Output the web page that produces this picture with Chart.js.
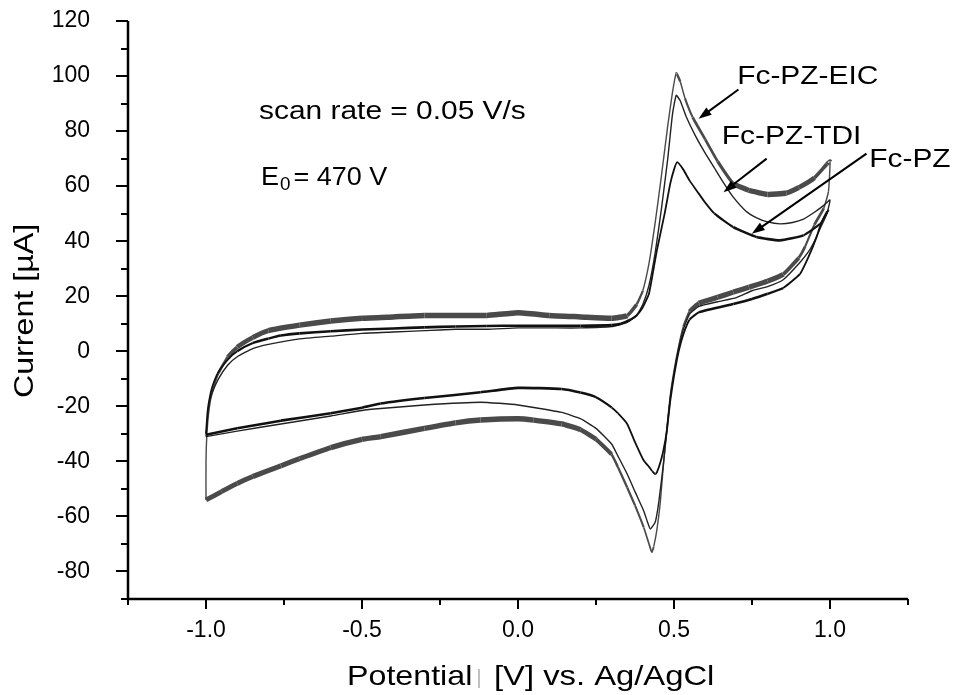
<!DOCTYPE html>
<html>
<head>
<meta charset="utf-8">
<script src="https://cdn.jsdelivr.net/npm/chart.js@4.4.1/dist/chart.umd.min.js"></script>
<style>
  html, body { margin: 0; padding: 0; background: #fff; }
  #wrap { width: 956px; height: 695px; position: relative; }
</style>
</head>
<body>
<div id="wrap"><canvas id="cvChart"></canvas></div>
<script>
// cyclic voltammograms, forward scan (-1.0 -> 1.0) then reverse scan (1.0 -> -1.0)
var eicPotential = [
  -1.00, -1.00, -0.997, -0.99, -0.98, -0.96, -0.93, -0.90, -0.85, -0.80, -0.70, -0.60, -0.50, -0.40,
  -0.30, -0.20, -0.10, 0.00, 0.10, 0.20, 0.30, 0.35, 0.38, 0.40, 0.42, 0.44, 0.46, 0.48, 0.495,
  0.507, 0.52, 0.535, 0.56, 0.60, 0.64, 0.69, 0.74, 0.80, 0.86, 0.90, 0.95, 0.99, 1.00,
  0.995, 0.98, 0.95, 0.92, 0.90, 0.85, 0.80, 0.74, 0.69, 0.64, 0.58, 0.55, 0.53, 0.515, 0.50,
  0.488, 0.477, 0.467, 0.456, 0.445, 0.435, 0.429, 0.42, 0.403, 0.375, 0.35, 0.32, 0.30, 0.25,
  0.20, 0.14, 0.05, 0.00, -0.12, -0.20, -0.30, -0.44, -0.50, -0.60, -0.70, -0.76, -0.85, -0.90,
  -0.95, -1.00
];
var eicCurrent = [
  -54, -40, -30, -21, -15, -8, -2, 1.5, 5, 7.5, 9.5, 11, 12, 12.5,
  13, 13, 13, 14, 13, 12.5, 12, 13, 17, 22, 32, 47, 64, 82, 94,
  101, 98, 92, 85, 77, 69, 61, 58.5, 57, 57.5, 59.5, 63, 68, 69,
  58, 52, 46, 38, 34, 28, 25.5, 23.3, 21.5, 19.6, 17.5, 14.5, 9, 2, -7,
  -16, -28, -40, -55, -65, -71, -73, -70, -64, -56, -49.5, -42, -37.5, -32,
  -28.5, -26.4, -25, -24.5, -25, -26, -28, -31, -32, -35, -39, -41.6, -45.5, -48,
  -51, -54
];

var tdiPotential = [
  -1.00, -0.995, -0.99, -0.98, -0.96, -0.93, -0.90, -0.85, -0.80, -0.70, -0.60, -0.50, -0.40,
  -0.30, -0.20, -0.10, 0.00, 0.10, 0.20, 0.30, 0.35, 0.38, 0.40, 0.42, 0.44, 0.46, 0.48, 0.495,
  0.507, 0.52, 0.54, 0.57, 0.60, 0.63, 0.66, 0.69, 0.73, 0.765, 0.80, 0.84, 0.88, 0.915, 0.95,
  0.98, 1.00,
  0.99, 0.97, 0.95, 0.93, 0.90, 0.85, 0.80, 0.75, 0.70, 0.64, 0.58, 0.55, 0.53, 0.515, 0.50,
  0.488, 0.477, 0.467, 0.451, 0.44, 0.424, 0.415, 0.403, 0.375, 0.35, 0.32, 0.30, 0.25, 0.20,
  0.14, 0.00, -0.12, -0.30, -0.44, -0.50, -0.60, -0.76, -0.90, -1.00
];
var tdiCurrent = [
  -31, -24, -19, -15, -10, -5, -2, 1, 2.5, 4.5, 5.5, 6.5, 7,
  7.5, 8, 8, 8.5, 8.5, 8.5, 9, 10.5, 13, 17, 24, 36, 52, 70, 86,
  93, 91, 85, 78, 72, 66.5, 61, 56, 51, 48.5, 47, 46.3, 46.8, 48, 50.5,
  53, 55,
  50, 45, 40, 36, 31.8, 26, 23.5, 22, 19.5, 18, 16.3, 13.5, 8, 1, -8,
  -17, -29, -40, -55, -62, -64.6, -62, -58, -51, -44.6, -38, -33.7, -28, -24.5,
  -22.2, -19.5, -18.5, -19.5, -20.8, -21.5, -23.5, -26.4, -29, -31
];

var pzPotential = [
  -1.00, -0.995, -0.99, -0.98, -0.96, -0.93, -0.90, -0.85, -0.80, -0.76, -0.70, -0.60, -0.50,
  -0.40, -0.30, -0.20, -0.10, 0.00, 0.10, 0.20, 0.30, 0.33, 0.36, 0.38, 0.40, 0.42, 0.445, 0.47,
  0.488, 0.50, 0.51, 0.53, 0.55, 0.575, 0.60, 0.63, 0.69, 0.765, 0.84, 0.915, 0.968, 0.995,
  0.989, 0.97, 0.957, 0.93, 0.904, 0.85, 0.80, 0.75, 0.69, 0.58, 0.55, 0.531, 0.515, 0.50,
  0.488, 0.477, 0.466, 0.456, 0.445, 0.44, 0.43, 0.42, 0.403, 0.375, 0.35, 0.32, 0.30, 0.25,
  0.20, 0.14, 0.00, -0.12, -0.30, -0.44, -0.50, -0.60, -0.76, -0.90, -1.00
];
var pzCurrent = [
  -30, -22, -18, -13, -7.5, -3, 0, 3, 4.6, 5.7, 6.5, 7.3, 7.9,
  8.3, 8.7, 9, 9.2, 9.3, 9.3, 9.3, 9.5, 10, 11.5, 13, 16, 21, 36.6, 50,
  60.9, 66, 68.7, 66, 62, 58, 54, 50, 45.1, 41.5, 40.3, 42.1, 46.3, 51.2,
  50.5, 46, 41.5, 34, 28.1, 23, 20.9, 19, 17.2, 14.2, 11.5, 6.5, 0, -9,
  -18, -29, -36, -40.5, -44, -44.6, -43.5, -42, -39.7, -33, -26.4, -22.5, -20.4, -16.7,
  -15, -13.7, -13.3, -14.9, -17, -19, -20.5, -22.5, -25.2, -28, -30.3
];

var seriesNames = ['Fc-PZ-EIC', 'Fc-PZ-TDI', 'Fc-PZ'];
var xTickLabels = ['-1.0', '-0.5', '0.0', '0.5', '1.0'];
var yTickLabels = ['-80', '-60', '-40', '-20', '0', '20', '40', '60', '80', '100', '120'];

var FONT = '"Liberation Sans", Arial, Helvetica, sans-serif';
var STRETCH = 1.15;

function toPoints(xs, ys) {
  return xs.map(function (v, i) { return { x: v, y: ys[i] }; });
}

function textAt(ctx, text, x, y, size, align, color, stretch) {
  var k = stretch || STRETCH;
  ctx.save();
  ctx.translate(x, y);
  ctx.scale(k, 1);
  ctx.font = size + 'px ' + FONT;
  ctx.fillStyle = color || '#000';
  ctx.textAlign = align || 'left';
  ctx.textBaseline = 'alphabetic';
  ctx.fillText(text, 0, 0);
  var w = ctx.measureText(text).width * k;
  ctx.restore();
  return w;
}

function arrow(ctx, x0, y0, x1, y1) {
  var a = Math.atan2(y1 - y0, x1 - x0);
  var head = 13, half = 4.5;
  var c = Math.cos(a), s = Math.sin(a);
  ctx.beginPath();
  ctx.moveTo(x0, y0);
  ctx.lineTo(x1 - c * head * 0.8, y1 - s * head * 0.8);
  ctx.stroke();
  ctx.beginPath();
  ctx.moveTo(x1, y1);
  ctx.lineTo(x1 - c * head + s * half, y1 - s * head - c * half);
  ctx.lineTo(x1 - c * head - s * half, y1 - s * head + c * half);
  ctx.closePath();
  ctx.fill();
}

// noisy trace: the ripple is vertical, so the band gets thinner on steep parts
function rippleWidth(band, thin) {
  return function (seg) {
    var dx = seg.p1.x - seg.p0.x, dy = seg.p1.y - seg.p0.y;
    var len = Math.sqrt(dx * dx + dy * dy) || 1;
    return Math.max(thin, band * Math.abs(dx) / len);
  };
}

// axis lines, major/minor tick marks, titles and annotations
var decorations = {
  id: 'decorations',
  afterDraw: function (chart) {
    var ctx = chart.ctx, area = chart.chartArea;
    var xs = chart.scales.x, ys = chart.scales.y;
    ctx.save();
    ctx.strokeStyle = '#000';
    ctx.fillStyle = '#000';
    ctx.lineCap = 'butt';

    ctx.lineWidth = 2;
    xs.ticks.forEach(function (t) {
      var px = Math.round(xs.getPixelForValue(t.value));
      var len = t.label ? 10 : 6;
      ctx.beginPath();
      ctx.moveTo(px, area.bottom);
      ctx.lineTo(px, area.bottom + len);
      ctx.stroke();
    });
    ys.ticks.forEach(function (t) {
      var py = Math.round(ys.getPixelForValue(t.value));
      var len = t.label ? 12 : 7;
      ctx.beginPath();
      ctx.moveTo(area.left, py);
      ctx.lineTo(area.left - len, py);
      ctx.stroke();
    });

    ctx.lineWidth = 2.5;
    ctx.beginPath();
    ctx.moveTo(area.left, area.top);
    ctx.lineTo(area.left, area.bottom);
    ctx.lineTo(area.right, area.bottom);
    ctx.stroke();

    // axis titles
    ctx.save();
    ctx.translate(33, 311);
    ctx.rotate(-Math.PI / 2);
    textAt(ctx, 'Current [\u00b5A]', 0, 0, 28, 'center');
    ctx.restore();
    textAt(ctx, 'Potential', 347, 685, 28, 'left');
    textAt(ctx, '|', 476, 684, 20, 'left', '#bdbdbd');
    textAt(ctx, '[V] vs. Ag/AgCl', 494, 685, 28.5, 'left');

    // annotations (placed in data coordinates)
    function px(v) { return xs.getPixelForValue(v); }
    function py(v) { return ys.getPixelForValue(v); }
    textAt(ctx, 'scan rate = 0.05 V/s', px(-0.830), py(84.4), 26, 'left');
    var ex = px(-0.824), ey = py(60.25);
    var we = textAt(ctx, 'E', ex, ey, 26.5, 'left', '#000', 1.02);
    var ws = textAt(ctx, '0', ex + we + 1, ey + 5, 18.5, 'left', '#000', 1.02);
    textAt(ctx, '= 470 V', ex + we + ws + 4, ey, 26.5, 'left', '#000', 1.02);

    textAt(ctx, seriesNames[0], px(0.7025), py(97.2), 26, 'left');
    textAt(ctx, seriesNames[1], px(0.6534), py(75.4), 26, 'left');
    textAt(ctx, seriesNames[2], px(1.1258), py(66.9), 26, 'left');

    ctx.lineWidth = 2;
    arrow(ctx, px(0.7066), py(95.1), px(0.5786), py(84.5));
    arrow(ctx, px(0.797), py(70.0), px(0.6586), py(57.8));
    arrow(ctx, px(1.117), py(71.8), px(0.7493), py(42.7));
    ctx.restore();
  }
};

function isStep(v, step) {
  return Math.abs(v / step - Math.round(v / step)) < 1e-6;
}

var cvChart = new Chart(document.getElementById('cvChart'), {
  type: 'scatter',
  data: {
    datasets: [
      {
        label: seriesNames[2],
        data: toPoints(pzPotential, pzCurrent),
        showLine: true,
        borderColor: '#111',
        borderWidth: 2.3,
        segment: { borderWidth: rippleWidth(2.6, 1.8) },
        pointRadius: 0,
        tension: 0.15,
        borderJoinStyle: 'round'
      },
      {
        label: seriesNames[1],
        data: toPoints(tdiPotential, tdiCurrent),
        showLine: true,
        borderColor: '#222',
        borderWidth: 1.4,
        pointRadius: 0,
        tension: 0.15,
        borderJoinStyle: 'round'
      },
      {
        label: seriesNames[0],
        data: toPoints(eicPotential, eicCurrent),
        showLine: true,
        borderColor: '#4a4a4a',
        borderWidth: 5,
        segment: { borderWidth: rippleWidth(5.5, 1.4) },
        pointRadius: 0,
        tension: 0.15,
        borderJoinStyle: 'round'
      }
    ]
  },
  options: {
    responsive: true,
    maintainAspectRatio: false,
    devicePixelRatio: 1,
    animation: false,
    layout: { padding: { left: 0, top: 21, right: 48, bottom: 0 } },
    plugins: {
      legend: { display: false },
      tooltip: { enabled: false }
    },
    scales: {
      x: {
        type: 'linear',
        min: -1.25,
        max: 1.25,
        grid: { display: false, drawTicks: false },
        border: { display: false },
        ticks: {
          stepSize: 0.25,
          autoSkip: false,
          maxRotation: 0,
          padding: 18,
          color: '#000',
          font: { family: FONT, size: 23 },
          callback: function (v) {
            var s = Number(v).toFixed(1);
            return isStep(v, 0.5) && xTickLabels.indexOf(s) >= 0 ? s : '';
          }
        },
        afterFit: function (scale) {
          scale.height = 96;
          scale.paddingLeft = 0;
          scale.paddingRight = 0;
        }
      },
      y: {
        type: 'linear',
        min: -90,
        max: 120,
        grid: { display: false, drawTicks: false },
        border: { display: false },
        ticks: {
          stepSize: 10,
          autoSkip: false,
          padding: 38,
          color: '#000',
          font: { family: FONT, size: 23 },
          callback: function (v) {
            var s = String(Math.round(v));
            return isStep(v, 20) && yTickLabels.indexOf(s) >= 0 ? s : '';
          }
        },
        afterFit: function (scale) {
          scale.width = 128;
          scale.paddingTop = 0;
          scale.paddingBottom = 0;
        }
      }
    }
  },
  plugins: [decorations]
});
</script>
</body>
</html>
